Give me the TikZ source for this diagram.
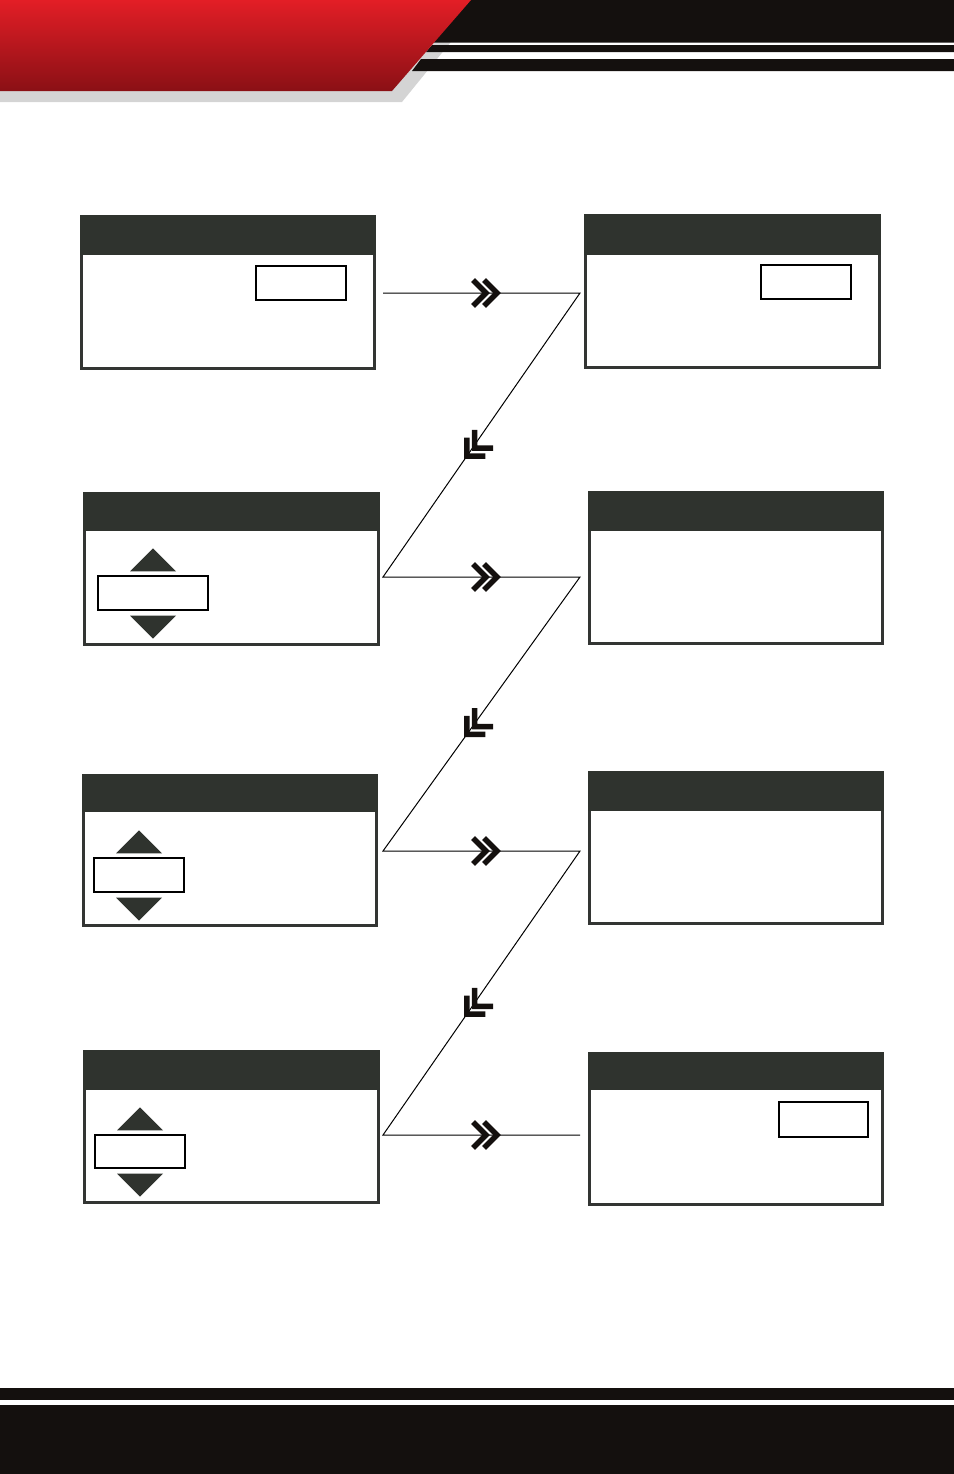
\documentclass[tikz,border=0pt]{standalone}
\usetikzlibrary{calc,fit}
\definecolor{hdr}{HTML}{2F332E}
\definecolor{rim}{HTML}{333533}
\definecolor{ink}{HTML}{14100E}
\definecolor{redtop}{HTML}{E31E26}
\definecolor{redbot}{HTML}{8A1015}
\definecolor{shadow}{HTML}{D4D4D4}
\tikzset{
  panelbox/.style={draw=rim, line width=1.5pt, fill=white, inner sep=-0.75pt},
  field/.style={draw=black, line width=0.6pt, fill=white, inner sep=0pt},
  knob/.style={fill=hdr},
  link/.style={draw=black, line width=0.5pt},
  chev/.pic={\draw[line width=2.75pt, ink] (-13,13) -- (0,0) -- (-13,-13)
    (-24,13) -- (-11,0) -- (-24,-13);}
}
\begin{document}
\begin{tikzpicture}[x=0.5pt,y=-0.5pt]
  \useasboundingbox (0,0) rectangle (954,1474);
  % header band
  \fill[shadow] (0,91) -- (0,102) -- (402,102) -- (485,0) -- (471,0) -- cycle;
  \fill[ink] (430,0) -- (954,0) -- (954,42.5) -- (400,42.5) -- cycle;
  \fill[ink] (432,45) -- (954,45) -- (954,52) -- (426,52) -- cycle;
  \fill[ink] (421,59) -- (954,59) -- (954,71) -- (412,71) -- cycle;
  \shade[top color=redtop, bottom color=redbot] (0,0) -- (471,0) -- (392,91) -- (0,91) -- cycle;
  % footer band
  \fill[ink] (0,1388) rectangle (954,1400);
  \fill[ink] (0,1405) rectangle (954,1474);

  % panels
  \foreach \n/\xa/\ya/\xb/\yb/\h in {l1/80/215/376/370/255, r1/584/214/881/369/255,
      l2/83/492/380/646/531, r2/588/491/884/645/531,
      l3/82/774/378/927/812, r3/588/771/884/925/811,
      l4/83/1050/380/1204/1090, r4/588/1052/884/1206/1090} {
    \node[panelbox, fit={(\xa,\ya) (\xb,\yb)}] (\n) {};
    \fill[hdr] (\xa,\ya) rectangle (\xb,\h);
  }

  % value fields
  \node[field, fit={(256,266) (346,300)}] (f1) {};
  \node[field, fit={(761,265) (851,299)}] (f2) {};
  \node[field, fit={(779,1102) (868,1137)}] (f8) {};

  % spinners
  \foreach \n/\xa/\ya/\xb/\yb in {s2/98/576/208/610, s3/94/858/184/892, s4/95/1135/185/1168} {
    \node[field, fit={(\xa,\ya) (\xb,\yb)}] (\n) {};
    \fill[knob] ($(\n.north)+(-23,-4)$) -- ($(\n.north)+(0,-27)$) -- ($(\n.north)+(23,-4)$) -- cycle;
    \fill[knob] ($(\n.south)+(-23,5)$) -- ($(\n.south)+(0,28)$) -- ($(\n.south)+(23,5)$) -- cycle;
  }

  % flow
  \coordinate (a1) at (383,293);  \coordinate (b1) at (580,293);
  \coordinate (a2) at (383,577);  \coordinate (b2) at (580,577);
  \coordinate (a3) at (383,851);  \coordinate (b3) at (580,851);
  \coordinate (a4) at (383,1135); \coordinate (b4) at (580,1135);
  \draw[link] (a1) -- (b1) -- (a2) -- (b2) -- (a3) -- (b3) -- (a4) -- (b4);
  \foreach \i in {1,2,3,4}
    \pic at ($(a\i)!0.579!(b\i)$) {chev};
  \pic[rotate=225] at ($(b1)!0.574!(a2)$) {chev};
  \pic[rotate=225] at ($(b2)!0.574!(a3)$) {chev};
  \pic[rotate=225] at ($(b3)!0.574!(a4)$) {chev};
\end{tikzpicture}
\end{document}
